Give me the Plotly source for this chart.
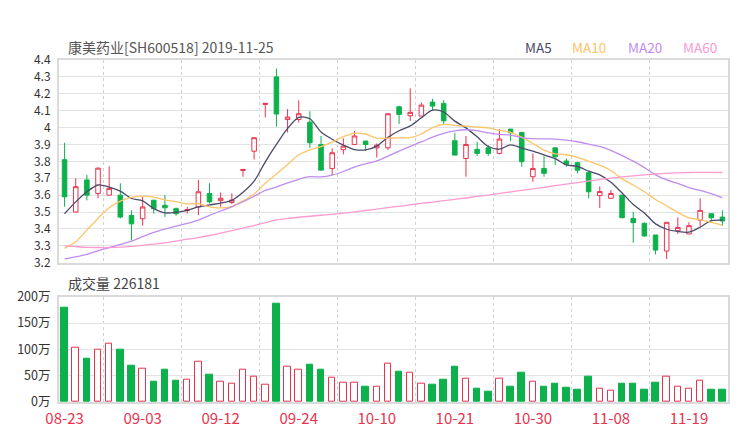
import plotly.graph_objects as go

dates = ["08-23", "08-26", "08-27", "08-28", "08-29", "08-30",
         "09-02", "09-03", "09-04", "09-05", "09-06", "09-09", "09-10", "09-11", "09-12",
         "09-16", "09-17", "09-18", "09-19", "09-20", "09-23", "09-24", "09-25", "09-26",
         "09-27", "09-30",
         "10-08", "10-09", "10-10", "10-11", "10-14", "10-15", "10-16", "10-17", "10-18",
         "10-21", "10-22", "10-23", "10-24", "10-25", "10-28", "10-29", "10-30", "10-31",
         "11-01", "11-04", "11-05", "11-06", "11-07", "11-08", "11-11", "11-12", "11-13",
         "11-14", "11-15", "11-18", "11-19", "11-20", "11-21", "11-22"]

opens = [3.81, 3.50, 3.69, 3.61, 3.60, 3.60, 3.48, 3.46, 3.57, 3.54,
         3.52, 3.508, 3.53, 3.61, 3.567, 3.557, 3.746, 3.86, 4.137, 4.30,
         4.048, 4.048, 4.032, 3.90, 3.758, 3.869, 3.90, 3.92, 3.88, 3.88,
         4.123, 4.07, 4.068, 4.151, 4.143, 3.922, 3.817, 3.871, 3.88, 3.847,
         3.991, 3.971, 3.709, 3.758, 3.88, 3.802, 3.792, 3.733, 3.597, 3.581,
         3.60, 3.462, 3.433, 3.364, 3.269, 3.389, 3.37, 3.452, 3.49, 3.47]
highs = [3.91, 3.70, 3.72, 3.762, 3.77, 3.67, 3.51, 3.59, 3.571, 3.60,
         3.527, 3.53, 3.69, 3.67, 3.616, 3.61, 3.752, 3.94, 4.143, 4.35,
         4.109, 4.161, 4.097, 3.95, 3.877, 3.936, 3.979, 3.92, 3.906, 4.082,
         4.129, 4.232, 4.149, 4.17, 4.162, 3.969, 3.95, 3.916, 3.896, 3.991,
         3.991, 3.971, 3.847, 3.831, 3.88, 3.817, 3.798, 3.739, 3.651, 3.63,
         3.60, 3.502, 3.439, 3.364, 3.439, 3.468, 3.439, 3.581, 3.49, 3.51]
lows = [3.531, 3.498, 3.569, 3.581, 3.60, 3.462, 3.332, 3.419, 3.49, 3.47,
        3.478, 3.492, 3.482, 3.551, 3.531, 3.547, 3.709, 3.811, 4.06, 4.005,
        3.971, 4.03, 3.88, 3.748, 3.719, 3.841, 3.90, 3.861, 3.823, 3.867,
        4.021, 4.04, 4.068, 4.103, 4.021, 3.837, 3.709, 3.831, 3.833, 3.841,
        3.92, 3.768, 3.679, 3.709, 3.778, 3.768, 3.729, 3.581, 3.524, 3.581,
        3.466, 3.318, 3.354, 3.249, 3.222, 3.37, 3.37, 3.413, 3.443, 3.419]
closes = [3.59, 3.65, 3.60, 3.76, 3.64, 3.47, 3.43, 3.53, 3.52, 3.525,
          3.49, 3.515, 3.62, 3.56, 3.581, 3.571, 3.752, 3.94, 4.143, 4.08,
          4.062, 4.082, 3.91, 3.748, 3.851, 3.89, 3.95, 3.90, 3.896, 4.082,
          4.078, 4.09, 4.133, 4.127, 4.04, 3.837, 3.90, 3.847, 3.847, 3.932,
          3.969, 3.798, 3.758, 3.729, 3.827, 3.782, 3.748, 3.62, 3.621, 3.61,
          3.466, 3.437, 3.358, 3.275, 3.439, 3.409, 3.419, 3.51, 3.466, 3.447]

volumes = [180, 104, 83, 99, 110, 99, 69, 64, 39, 61,
           41, 43, 76, 52, 38, 35, 62, 49, 33, 186,
           68, 61, 70, 62, 47, 36, 37, 30, 30, 72,
           57, 56, 35, 32, 42, 67, 45, 26, 20, 45,
           30, 55, 39, 30, 35, 27, 23, 48, 25, 21,
           35, 35, 23, 37, 49, 30, 25, 40, 23, 23]

ma5 = [3.49, 3.56, 3.62, 3.66, 3.648, 3.624, 3.58, 3.566, 3.52, 3.495,
       3.498, 3.51, 3.53, 3.542, 3.553, 3.569, 3.617, 3.683, 3.797, 3.90,
       3.995, 4.061, 4.052, 3.974, 3.931, 3.896, 3.870, 3.868, 3.89, 3.942,
       3.981, 4.01, 4.058, 4.103, 4.092, 4.038, 3.998, 3.945, 3.888, 3.872,
       3.898, 3.879, 3.861, 3.838, 3.816, 3.779, 3.77, 3.742, 3.72, 3.676,
       3.613, 3.545, 3.494, 3.43, 3.398, 3.385, 3.381, 3.41, 3.449, 3.452]
ma10 = [3.285, 3.324, 3.393, 3.462, 3.525, 3.565, 3.587, 3.594, 3.588, 3.572,
        3.562, 3.548, 3.55, 3.53, 3.524, 3.534, 3.566, 3.607, 3.67, 3.725,
        3.782, 3.839, 3.868, 3.887, 3.914, 3.946, 3.966, 3.962, 3.937, 3.937,
        3.939, 3.94, 3.962, 4.0, 4.019, 4.013, 4.008, 4.003, 3.998, 3.983,
        3.972, 3.943, 3.906, 3.866, 3.844, 3.839, 3.824, 3.801, 3.778, 3.746,
        3.696, 3.66, 3.62, 3.574, 3.536, 3.498, 3.465, 3.454, 3.439, 3.423]
ma20 = [3.222, 3.235, 3.249, 3.272, 3.289, 3.308, 3.328, 3.354, 3.379, 3.399,
        3.417, 3.433, 3.452, 3.48, 3.506, 3.531, 3.561, 3.594, 3.628, 3.648,
        3.672, 3.694, 3.709, 3.708, 3.719, 3.74, 3.766, 3.785, 3.803, 3.831,
        3.861, 3.889, 3.915, 3.943, 3.966, 3.98, 3.987, 3.982, 3.968, 3.96,
        3.955, 3.941, 3.934, 3.933, 3.932, 3.926, 3.916, 3.902, 3.888, 3.865,
        3.834, 3.801, 3.763, 3.72, 3.69, 3.669, 3.645, 3.628, 3.609, 3.584]
ma60 = [3.30, 3.295, 3.291, 3.29, 3.29, 3.292, 3.297, 3.303, 3.31, 3.318,
        3.328, 3.339, 3.349, 3.361, 3.375, 3.39, 3.405, 3.42, 3.437, 3.453,
        3.462, 3.469, 3.475, 3.481, 3.486, 3.493, 3.501, 3.509, 3.517, 3.526,
        3.534, 3.543, 3.551, 3.559, 3.567, 3.575, 3.583, 3.592, 3.60, 3.61,
        3.619, 3.628, 3.637, 3.646, 3.656, 3.665, 3.674, 3.683, 3.692, 3.701,
        3.708, 3.714, 3.72, 3.725, 3.729, 3.732, 3.734, 3.735, 3.735, 3.734]

price_tick_vals = [3.2, 3.3, 3.4, 3.5, 3.6, 3.7, 3.8, 3.9, 4.0, 4.1, 4.2, 4.3, 4.4]
price_tick_text = ["3.2", "3.3", "3.4", "3.5", "3.6", "3.7", "3.8", "3.9", "4", "4.1", "4.2", "4.3", "4.4"]
vol_tick_vals = [0, 50, 100, 150, 200]
vol_tick_text = ["0万", "50万", "100万", "150万", "200万"]

title_text = "康美药业[SH600518] 2019-11-25"
vol_label = "成交量 226181"
ma_names = ["MA5", "MA10", "MA20", "MA60"]

RED = "#e8334d"
GREEN = "#0db14b"
MA_COLORS = ["#4a4a6a", "#fdc468", "#c08cf0", "#fb9bcf"]
FONT = "Noto Sans CJK SC"

idx = list(range(len(dates)))
label_step = 7
tick_idx = idx[::label_step]
tick_txt = dates[::label_step]

W, H = 740, 440
ML, MR, MT, MB = 59, 10, 60, 38
PW, PH = W - ML - MR, H - MT - MB


def px(x):
    return (x - ML) / PW


def py(y):
    return (H - MB - y) / PH


fig = go.Figure()

fig.add_trace(go.Candlestick(
    x=idx, open=opens, high=highs, low=lows, close=closes,
    increasing=dict(line=dict(color=RED, width=1), fillcolor="#ffffff"),
    decreasing=dict(line=dict(color=GREEN, width=1), fillcolor=GREEN),
    whiskerwidth=0, showlegend=False, xaxis="x", yaxis="y"))

for name, vals, col in zip(ma_names, [ma5, ma10, ma20, ma60], MA_COLORS):
    fig.add_trace(go.Scatter(
        x=idx, y=vals, mode="lines", name=name,
        line=dict(color=col, width=1.3, shape="spline", smoothing=0.8),
        showlegend=False, xaxis="x", yaxis="y"))

up = [c >= o for o, c in zip(opens, closes)]
fig.add_trace(go.Bar(
    x=idx, y=volumes, width=0.58,
    marker=dict(color=["#ffffff" if u else GREEN for u in up],
                line=dict(color=[RED if u else GREEN for u in up], width=1)),
    showlegend=False, xaxis="x2", yaxis="y2"))

minor_grid = dict(tickmode="linear", tick0=3.5, dtick=label_step, showgrid=True,
                  gridcolor="#d0d0d0", gridwidth=1, griddash="3px,3px", ticks="")
frame = dict(showline=True, mirror=True, linecolor="#dadada", linewidth=2, zeroline=False)

fig.update_layout(
    width=W, height=H,
    margin=dict(l=ML, r=MR, t=MT, b=MB),
    paper_bgcolor="white", plot_bgcolor="white",
    font=dict(family=FONT, color="#333333", size=12),
    showlegend=False, boxgap=0.42, bargap=0,
    xaxis=dict(domain=[0, 1], anchor="y", range=[-0.5, len(dates) - 0.5],
               tickmode="array", tickvals=tick_idx, showticklabels=False,
               showgrid=False, ticks="", minor=minor_grid,
               rangeslider=dict(visible=False), **frame),
    yaxis=dict(domain=[py(262.7), 1], anchor="x", range=[3.2, 4.4],
               tickmode="array", tickvals=price_tick_vals, ticktext=price_tick_text,
               showgrid=True, gridcolor="#e2e2e2", gridwidth=1, ticks="",
               tickfont=dict(size=12, color="#333333"), ticklabelstandoff=4, **frame),
    xaxis2=dict(domain=[0, 1], anchor="y2", range=[-0.5, len(dates) - 0.5],
                tickmode="array", tickvals=tick_idx, ticktext=tick_txt,
                tickfont=dict(size=15, color=RED), showgrid=False, ticks="",
                minor=minor_grid, ticklabelstandoff=2, **frame),
    yaxis2=dict(domain=[0, py(296.7)], anchor="x2", range=[0, 200],
                tickmode="array", tickvals=vol_tick_vals, ticktext=vol_tick_text,
                showgrid=True, gridcolor="#e2e2e2", gridwidth=1, ticks="",
                tickfont=dict(size=12.5, color="#333333"), ticklabelstandoff=4, **frame),
)

ann = [dict(text=title_text, x=px(66), y=py(47), xanchor="left", yanchor="middle",
            font=dict(size=14, color="#555555")),
       dict(text=vol_label, x=px(66), y=py(283), xanchor="left", yanchor="middle",
            font=dict(size=14, color="#444444"))]
for name, col, cx in zip(ma_names, MA_COLORS, [540, 591, 647, 702]):
    ann.append(dict(text=name, x=px(cx), y=py(47), xanchor="center", yanchor="middle",
                    font=dict(size=13.5, color=col)))
for a in ann:
    a.update(xref="paper", yref="paper", showarrow=False)
fig.update_layout(annotations=ann)

fig.write_html("out.html", config={"displayModeBar": False},
               post_script="document.body.style.margin='0';document.body.style.overflow='hidden';")
